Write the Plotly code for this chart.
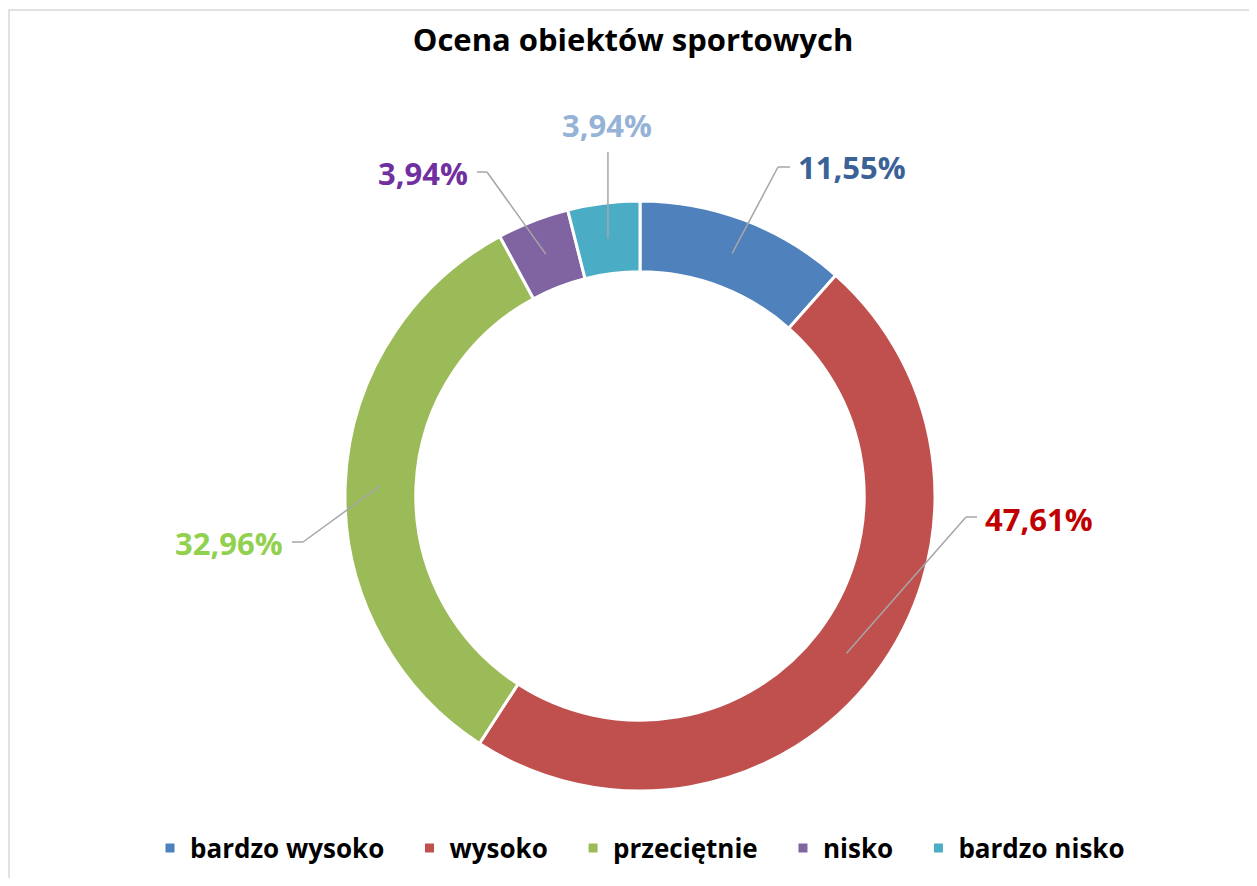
import math
import plotly.graph_objects as go

# ---- data ----
categories = ["bardzo wysoko", "wysoko", "przeciętnie", "nisko", "bardzo nisko"]
values = [11.55, 47.61, 32.96, 3.94, 3.94]
label_texts = ["11,55%", "47,61%", "32,96%", "3,94%", "3,94%"]

# ---- styles ----
slice_colors = ["#4F81BD", "#C0504D", "#9BBB59", "#8064A2", "#4BACC6"]
label_colors = ["#3A6296", "#C00000", "#92D050", "#7030A0", "#95B3D7"]
FONT = "Open Sans"
LEGEND_PAD = "\u00a0" * 3  # extra spacing between legend entries

# page has an 8px body margin; size the figure so it fits the 1257x886 window
OFF = 8
FW, FH = 1257 - 2 * OFF, 886 - 2 * OFF

# pie geometry in screen pixels
CX, CY, R = 640, 496, 295
HOLE = 0.76
R_MID = R * (1 + HOLE) / 2

# label placement (screen px), layout only
# (elbow_x, elbow_y, end_x, text_x, text_y, anchor)
label_layout = [
    (778, 167, 790, 796, 167, "left"),
    (966, 517, 977, 983, 519, "left"),
    (303, 542, 292, 285, 543, "right"),
    (487, 172, 477, 470, 173, "right"),
    (None, 152, None, 607, 125, "center"),
]


def px(x):
    return (x - OFF) / FW


def py(y):
    return 1 - (y - OFF) / FH


legend_names = [c + LEGEND_PAD if i < len(categories) - 1 else c
                for i, c in enumerate(categories)]

fig = go.Figure()
fig.add_trace(go.Pie(
    labels=legend_names,
    values=values,
    sort=False,
    direction="clockwise",
    rotation=0,
    hole=HOLE,
    marker=dict(colors=slice_colors, line=dict(color="white", width=3)),
    textinfo="none",
    hoverinfo="label+percent",
    domain=dict(x=[px(CX - R), px(CX + R)], y=[py(CY + R), py(CY - R)]),
))

total = sum(values)
cum = 0.0
shapes = []
annotations = []
gray = "#A6A6A6"
for i, v in enumerate(values):
    mid = (cum + v / 2) / total * 2 * math.pi
    cum += v
    sx = CX + R_MID * math.sin(mid)
    sy = CY - R_MID * math.cos(mid)
    ex, ey, endx, tx, ty, anc = label_layout[i]
    if ex is None:
        shapes.append(dict(type="line", xref="paper", yref="paper",
                           x0=px(sx), y0=py(sy), x1=px(sx), y1=py(ey),
                           line=dict(color=gray, width=1.5)))
    else:
        shapes.append(dict(type="line", xref="paper", yref="paper",
                           x0=px(sx), y0=py(sy), x1=px(ex), y1=py(ey),
                           line=dict(color=gray, width=1.5)))
        shapes.append(dict(type="line", xref="paper", yref="paper",
                           x0=px(ex), y0=py(ey), x1=px(endx), y1=py(ey),
                           line=dict(color=gray, width=1.5)))
    annotations.append(dict(
        text=label_texts[i], x=px(tx), y=py(ty), xref="paper", yref="paper",
        xanchor=anc, yanchor="middle", showarrow=False,
        font=dict(family=FONT, size=31, color=label_colors[i], weight="bold"),
    ))

# chart border (top and left visible)
shapes.append(dict(type="rect", xref="paper", yref="paper",
                   x0=px(9), x1=px(1262), y0=py(900), y1=py(10),
                   line=dict(color="#D9D9D9", width=1.5), layer="below"))

fig.update_layout(
    width=FW, height=FH,
    margin=dict(l=0, r=0, t=0, b=0),
    paper_bgcolor="white", plot_bgcolor="white",
    title=dict(text="Ocena obiektów sportowych", x=px(633), xanchor="center",
               y=py(40), yanchor="middle",
               font=dict(family=FONT, size=31, color="black", weight="bold")),
    showlegend=True,
    legend=dict(orientation="h", x=px(640), xanchor="center",
                y=py(848), yanchor="middle",
                font=dict(family=FONT, size=26, color="black", weight="bold"),
                itemclick=False, itemdoubleclick=False),
    shapes=shapes,
    annotations=annotations,
)

fig.write_html("out.html")
